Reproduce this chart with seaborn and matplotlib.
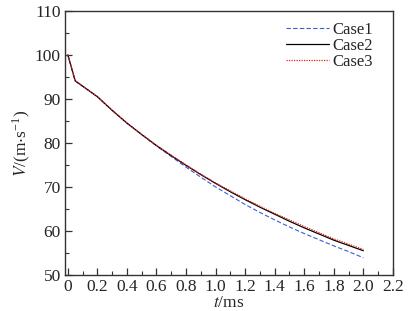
import matplotlib
matplotlib.use("Agg")
import matplotlib.pyplot as plt
import seaborn as sns
import pandas as pd
from matplotlib.ticker import MultipleLocator

t = [0, 0.05, 0.2, 0.3, 0.4, 0.5, 0.6, 0.7, 0.8, 0.9, 1.0, 1.1, 1.2, 1.3,
     1.4, 1.5, 1.6, 1.7, 1.8, 1.9, 2.0]
case1 = [100, 94.1, 90.5, 87.4, 84.5, 81.9, 79.3, 76.9, 74.5, 72.2, 70.0,
         68.0, 66.0, 64.2, 62.5, 60.9, 59.4, 58.0, 56.6, 55.3, 53.9]
case2 = [100, 94.1, 90.5, 87.4, 84.5, 81.9, 79.4, 77.1, 74.9, 72.8, 70.8,
         68.9, 67.1, 65.4, 63.8, 62.2, 60.7, 59.3, 57.9, 56.7, 55.5]
case3 = [100, 94.1, 90.5, 87.4, 84.5, 81.9, 79.4, 77.2, 75.0, 72.9, 70.9,
         69.1, 67.3, 65.6, 64.0, 62.5, 61.0, 59.6, 58.2, 57.0, 55.8]

xticks = [0, 0.2, 0.4, 0.6, 0.8, 1.0, 1.2, 1.4, 1.6, 1.8, 2.0, 2.2]
xticklabels = ["0", "0.2", "0.4", "0.6", "0.8", "1.0", "1.2", "1.4", "1.6",
               "1.8", "2.0", "2.2"]
yticks = [50, 60, 70, 80, 90, 100, 110]

sns.set_style("ticks")
plt.rcParams["font.family"] = ["Liberation Serif", "DejaVu Serif"]
plt.rcParams["mathtext.fontset"] = "stix"

fig = plt.figure(figsize=(4.08, 3.11), dpi=100)
ax = fig.add_axes([0.159, 0.116, 0.804, 0.849])

df = pd.DataFrame({"t": t, "Case1": case1, "Case2": case2, "Case3": case3})
sns.lineplot(data=df, x="t", y="Case1", ax=ax, color="#3b5fd0",
             linestyle=(0, (4, 2)), linewidth=0.8, label="Case1")
sns.lineplot(data=df, x="t", y="Case2", ax=ax, color="black",
             linestyle="-", linewidth=0.9, label="Case2")
sns.lineplot(data=df, x="t", y="Case3", ax=ax, color="#e8211c",
             linestyle=(0, (1, 1)), linewidth=0.9, label="Case3")

ax.set_xlim(-0.02, 2.2)
ax.set_ylim(50, 110)
ax.set_xticks(xticks)
ax.set_xticklabels(xticklabels)
ax.set_yticks(yticks)
ax.xaxis.set_minor_locator(MultipleLocator(0.1))
ax.yaxis.set_minor_locator(MultipleLocator(5))
ax.tick_params(which="major", direction="in", length=5, width=0.9,
               labelsize=12.5, color="#333333", pad=3)
ax.tick_params(which="minor", direction="in", length=3, width=0.8,
               color="#333333")
for s in ax.spines.values():
    s.set_linewidth(1.0)
    s.set_color("#333333")

ax.set_xlabel(r"$\mathit{t}$/ms", fontsize=12.5, labelpad=0)
ax.set_ylabel(r"$\mathit{V}$/(m$\cdot$s$^{\mathregular{-1}}$)", fontsize=12.5,
              labelpad=2)

leg = ax.legend(loc="upper right", bbox_to_anchor=(0.96, 0.985),
                frameon=False, fontsize=12, handlelength=2.6,
                handletextpad=0.2, labelspacing=0.0, borderaxespad=0)

fig.savefig("out.png", dpi=100)
